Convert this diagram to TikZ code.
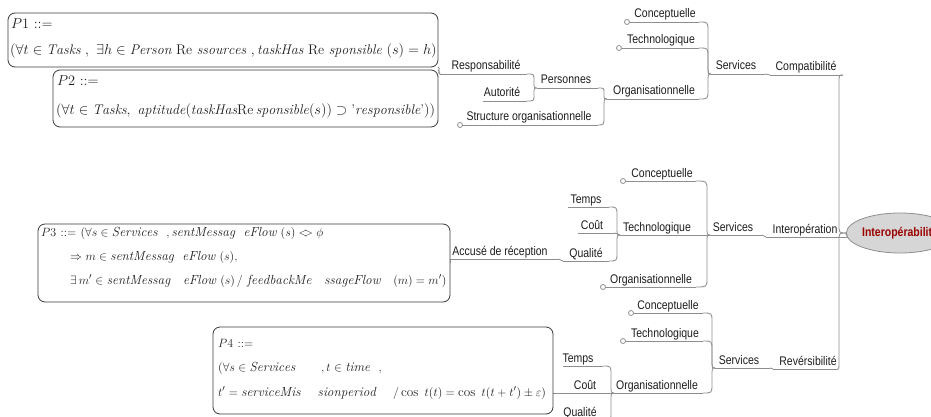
\documentclass[tikz,border=0pt]{standalone}
\usepackage{fontspec}
\usetikzlibrary{calc,shapes.geometric}
\newfontfamily\lblfont[FakeStretch=0.84]{Liberation Sans}
\definecolor{linec}{HTML}{8E8E8E}
\definecolor{boxc}{HTML}{3A3A3A}
\definecolor{txtc}{HTML}{1E1E1E}
\definecolor{cenfill}{HTML}{D6D6D6}
\definecolor{centxt}{HTML}{9A0000}
\tikzset{
  ln/.style={draw=linec, line width=0.85pt},
  lbl/.style={font=\lblfont\fontsize{12.5}{14}\selectfont, text=txtc, inner sep=0pt, anchor=base},
  mthA/.style={font=\fontsize{14}{16}\selectfont, text=txtc, inner sep=0pt, anchor=base west},
  mthB/.style={font=\fontsize{13.2}{15}\selectfont, text=txtc, inner sep=0pt, anchor=base west},
  pbox/.style={draw=boxc, line width=0.8pt, rounded corners=7pt, inner sep=0pt, outer sep=0pt},
  leafdot/.style={circle, draw=linec, fill=white, line width=0.8pt, minimum size=5pt, inner sep=0pt},
  branch/.style={to path={let \p1=(\tikztostart),\p2=(\tikztotarget),
      \n1={min(9pt,abs(\y2-\y1)/2-0.5pt)} in
    (\p1) .. controls ({\x2-#1},\y1) .. ($({\x2-#1},\y1)!\n1!({\x2-#1},\y2)$)
    -- ($({\x2-#1},\y2)!\n1!({\x2-#1},\y1)$) .. controls ({\x2-#1},\y2) .. (\p2)}},
  branch/.default=3pt,
  joint/.style={out=0, in=180, looseness=0.8}
}
\begin{document}
\begin{tikzpicture}[x=1pt,y=-1pt]
\useasboundingbox (0,0) rectangle (931,417);
\fill[white] (0,0) rectangle (931,417);

% ---------- central node ----------
\node[ellipse, draw=linec, fill=cenfill, line width=0.8pt, minimum width=86pt, minimum height=40pt, inner sep=0pt,
      font=\lblfont\bfseries\fontsize{12.5}{14}\selectfont, text=centxt] (cen) at (900,233) {Interopérabilité};

% ---------- top group ----------
\coordinate (compL) at (770,75);   \coordinate (compR) at (843,75);
\coordinate (serv1L) at (711,74);  \coordinate (serv1R) at (765,74);
\coordinate (conc1L) at (627,22);  \coordinate (conc1R) at (699,22);
\coordinate (tech1L) at (619,48);  \coordinate (tech1R) at (699,48);
\coordinate (org1L) at (607,99);   \coordinate (org1R) at (699,99);
\coordinate (persL) at (537,88);   \coordinate (persR) at (598,88);
\coordinate (structL) at (460,125);\coordinate (structR) at (598,125);
\coordinate (respL) at (440,74);   \coordinate (respR) at (527,74);
\coordinate (autoL) at (483,101);  \coordinate (autoR) at (527,101);

\node[lbl] (tcomp) at (806,71) {Compatibilité};
\node[lbl] (tserv1) at (736,70) {Services};
\node[lbl] (tconc1) at (665,18) {Conceptuelle};
\node[lbl] (ttech1) at (661,44) {Technologique};
\node[lbl] (torg1) at (654,95) {Organisationnelle};
\node[lbl] (tpers) at (566,84) {Personnes};
\node[lbl] (tstruct) at (529,121) {Structure organisationnelle};
\node[lbl] (tresp) at (486,70) {Responsabilité};
\node[lbl] (tauto) at (502,97) {Autorité};

\foreach \n in {comp,serv1,conc1,tech1,org1,pers,struct,resp,auto}
  \draw[ln] (\n L) -- (\n R);
\draw[ln] (compR) to[branch=7pt] (cen.west);
\draw[ln] (serv1R) to[joint] (compL);
\draw[ln] (conc1R) to[branch] (serv1L);
\draw[ln] (tech1R) to[branch] (serv1L);
\draw[ln] (org1R) to[branch] (serv1L);
\draw[ln] (persR) to[branch] (org1L);
\draw[ln] (structR) to[branch] (org1L);
\draw[ln] (respR) to[branch] (persL);
\draw[ln] (autoR) to[branch] (persL);

% ---------- middle group ----------
\coordinate (interL) at (766,237); \coordinate (interR) at (847,237);
\coordinate (serv2L) at (710,235); \coordinate (serv2R) at (762,235);
\coordinate (conc2L) at (623,181); \coordinate (conc2R) at (696,181);
\coordinate (tech2L) at (620,235); \coordinate (tech2R) at (705,235);
\coordinate (org2L) at (603,287);  \coordinate (org2R) at (696,287);
\coordinate (temps2L) at (568,207);\coordinate (temps2R) at (609,207);
\coordinate (cout2L) at (578,233); \coordinate (cout2R) at (615,233);
\coordinate (qual2L) at (563,261); \coordinate (qual2R) at (609,261);
\coordinate (accL) at (451,259);   \coordinate (accR) at (558,259);

\node[lbl] (tinter) at (805,233) {Interopération};
\node[lbl] (tserv2) at (733,231) {Services};
\node[lbl] (tconc2) at (662,177) {Conceptuelle};
\node[lbl] (ttech2) at (657,231) {Technologique};
\node[lbl] (torg2) at (651,283) {Organisationnelle};
\node[lbl] (ttemps2) at (586,203) {Temps};
\node[lbl] (tcout2) at (592,229) {Coût};
\node[lbl] (tqual2) at (586,257) {Qualité};
\node[lbl] (tacc) at (500,255) {Accusé de réception};

\foreach \n in {inter,serv2,conc2,tech2,org2,temps2,cout2,qual2}
  \draw[ln] (\n L) -- (\n R);
\draw[ln] (accL) -- (accR);
\draw[ln] (interR) to[joint] (cen.west);
\draw[ln] (serv2R) to[joint] (interL);
\draw[ln] (conc2R) to[branch] (serv2L);
\draw[ln] (tech2R) to[joint] (serv2L);
\draw[ln] (org2R) to[branch] (serv2L);
\draw[ln] (temps2R) to[branch] (tech2L);
\draw[ln] (cout2R) to[joint] (tech2L);
\draw[ln] (qual2R) to[branch] (tech2L);
\draw[ln] (accR) to[joint] (qual2L);

% ---------- bottom group ----------
\coordinate (revL) at (773,369);   \coordinate (revR) at (838,369);
\coordinate (serv3L) at (715,368); \coordinate (serv3R) at (770,368);
\coordinate (conc3L) at (631,313); \coordinate (conc3R) at (703,313);
\coordinate (tech3L) at (623,341); \coordinate (tech3R) at (703,341);
\coordinate (org3L) at (614,393);  \coordinate (org3R) at (703,393);
\coordinate (temps3L) at (563,366);\coordinate (temps3R) at (603,366);
\coordinate (cout3L) at (553,393); \coordinate (cout3R) at (611,393);
\coordinate (qual3L) at (563,421); \coordinate (qual3R) at (603,421);

\node[lbl] (trev) at (808,365) {Revérsibilité};
\node[lbl] (tserv3) at (739,364) {Services};
\node[lbl] (tconc3) at (668,309) {Conceptuelle};
\node[lbl] (ttech3) at (665,337) {Technologique};
\node[lbl] (torg3) at (657,389) {Organisationnelle};
\node[lbl] (ttemps3) at (578,362) {Temps};
\node[lbl] (tcout3) at (585,389) {Coût};
\node[lbl] (tqual3) at (580,416) {Qualité};

\foreach \n in {rev,serv3,conc3,tech3,org3,temps3,cout3,qual3}
  \draw[ln] (\n L) -- (\n R);
\draw[ln] (revR) to[branch=7pt] (cen.west);
\draw[ln] (serv3R) to[joint] (revL);
\draw[ln] (conc3R) to[branch] (serv3L);
\draw[ln] (tech3R) to[branch] (serv3L);
\draw[ln] (org3R) to[branch] (serv3L);
\draw[ln] (temps3R) to[branch] (org3L);
\draw[ln] (cout3R) to[joint] (org3L);
\draw[ln] (qual3R) to[branch] (org3L);

% ---------- leaf circles ----------
\foreach \n in {conc1,tech1,struct,conc2,org2,conc3,tech3}
  \node[leafdot] (dot\n) at (\n L) {};

% ---------- formula boxes ----------
\node[pbox, minimum width=430pt, minimum height=54pt] (P1) at (223,40) {};
\node[pbox, minimum width=385pt, minimum height=57pt] (P2) at (245.5,98.5) {};
\node[pbox, minimum width=412pt, minimum height=78pt] (P3) at (244,263) {};
\node[pbox, minimum width=340pt, minimum height=87pt] (P4) at (383,370.5) {};

\draw[ln] (respL) to[out=180,in=0] (P1.south east);
\draw[ln] (respL) to[out=180,in=0] (P2.north east);
\draw[ln] (P3.east) to[joint] (accL);
\draw[ln] (P4.east |- cout3L) -- (cout3L);

\node[mthA] (p1a) at (11,29) {$P1\ {::}{=}$};
\node[mthA] (p1b) at (10,55) {$(\forall t \in \mathit{Tasks}\ ,\ \exists h \in \mathit{Person}\ \mathrm{Re}\ \mathit{ssources}\ ,\mathit{taskHas}\ \mathrm{Re}\ \mathit{sponsible}\ (s) = h)$};
\node[mthA] (p2a) at (57,86) {$P2\ {::}{=}$};
\node[mthA] (p2b) at (56,114) {$(\forall t \in \mathit{Tasks},\ \mathit{aptitude}(\mathit{taskHas}\mathrm{Re}\,\mathit{sponsible}(s)) \supset \mbox{'}\mathit{responsible}\mbox{'}))$};

\node[mthB] (p3a) at (41,236) {$P3\ {::}{=}\ (\forall s \in \mathit{Services}\ \ ,\mathit{sentMessag}\ \ \mathit{eFlow}\ (s) \mathrel{<\mkern-6mu>} \phi$};
\node[mthB] (p3b) at (70,260) {$\Rightarrow m \in \mathit{sentMessag}\ \ \mathit{eFlow}\ (s),$};
\node[mthB] (p3c) at (70,284) {$\exists\, m' \in \mathit{sentMessag}\ \ \ \mathit{eFlow}\ (s)\,/\ \mathit{feedbackMe}\ \ \ \mathit{ssageFlow}\ \ \ (m) = m')$};

\node[mthB] (p4a) at (218,347) {$P4\ {::}{=}$};
\node[mthB] (p4b) at (218,371) {$(\forall s \in \mathit{Services}\ \ \ \ \ \ , t \in \mathit{time}\ \ ,$};
\node[mthB] (p4c) at (218,396) {$t' = \mathit{serviceMis}\ \ \ \ \mathit{sionperiod}\ \ \ \ /\cos\ t(t) = \cos\ t(t+t') \pm \varepsilon)$};
\end{tikzpicture}
\end{document}
